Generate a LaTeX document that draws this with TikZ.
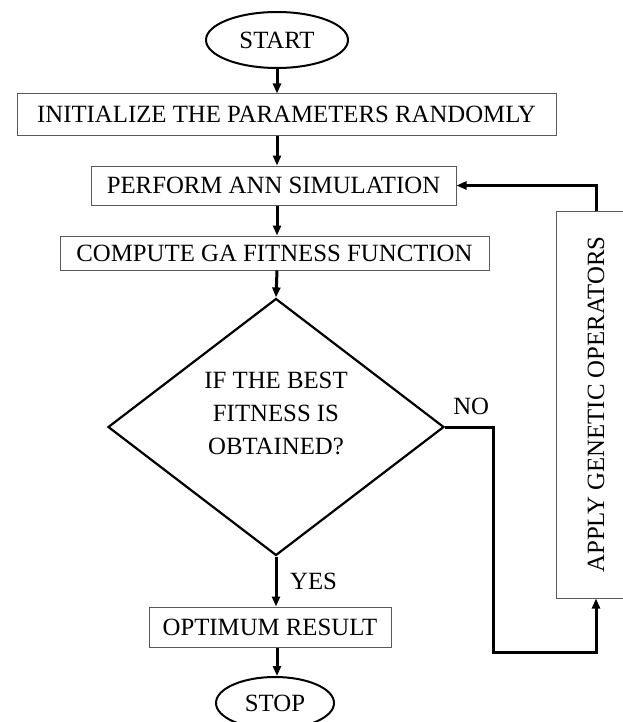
\documentclass[tikz,border=0pt]{standalone}
\usepackage{fontspec}
\setmainfont{Liberation Serif}
\usetikzlibrary{arrows.meta,shapes.geometric}
\tikzset{>={Triangle[length=5pt,width=4pt]}}
\tikzset{
	txt/.style={font=\fontsize{12.4}{16.5}\selectfont},
	box/.style={txt, draw=black!65, line width=0.5pt, rectangle, inner sep=0pt},
	terminal/.style={txt, draw, line width=1pt, ellipse, inner sep=0pt},
	decision/.style={draw, line width=1.1pt, diamond, inner sep=0pt},
	flow/.style={->, line width=1.5pt}
}
\begin{document}
\begin{tikzpicture}[x=0.5pt,y=-0.5pt]
	% Page frame
	\useasboundingbox (0,0) rectangle (622,722);

	% Start and stop
	\node[terminal, minimum width=71pt, minimum height=28pt] (start) at (277,40) {START};
	\node[terminal, minimum width=59pt, minimum height=26pt] (stop) at (275,703) {STOP};

	% Process boxes
	\node[box, minimum width=269.5pt, minimum height=20.5pt] (init) at (286.5,114.5) {INITIALIZE THE PARAMETERS RANDOMLY};
	\node[box, minimum width=182.5pt, minimum height=19.5pt] (sim) at (273.5,185.5) {PERFORM ANN SIMULATION};
	\node[box, minimum width=214.5pt, minimum height=17pt] (fit) at (274.5,253) {COMPUTE GA FITNESS FUNCTION};
	\node[box, minimum width=121pt, minimum height=20pt] (opt) at (270,627) {OPTIMUM RESULT};
	\node[box, minimum width=40pt, minimum height=193.5pt,
		label={[txt, rotate=90]center:APPLY GENETIC OPERATORS}] (apply) at (596,404.5) {};

	% Decision
	\node[decision, minimum width=168pt, minimum height=128.5pt,
		label={[txt, align=center, yshift=7pt]center:IF THE BEST\\FITNESS IS\\OBTAINED?}] (dec) at (276,427) {};

	% Main flow
	\draw[flow] (start.south) -- (start.south |- init.north);
	\draw[flow] (start.south |- init.south) -- (start.south |- sim.north);
	\draw[flow] (start.south |- sim.south) -- (start.south |- fit.north);
	\draw[flow] (start.south |- fit.south) -- (dec.north);
	\draw[flow] (dec.south) -- (dec.south |- opt.north) node[txt, midway, right, xshift=3pt] {YES};
	\draw[flow] (start.south |- opt.south) -- (start.south |- stop.north);

	% Loop back
	\draw[flow] (dec.east) node[txt, above right, yshift=2pt] {NO} -| ++(48,225) -| (apply.south);
	\draw[flow] (apply.north) |- (sim.east);
\end{tikzpicture}
\end{document}
